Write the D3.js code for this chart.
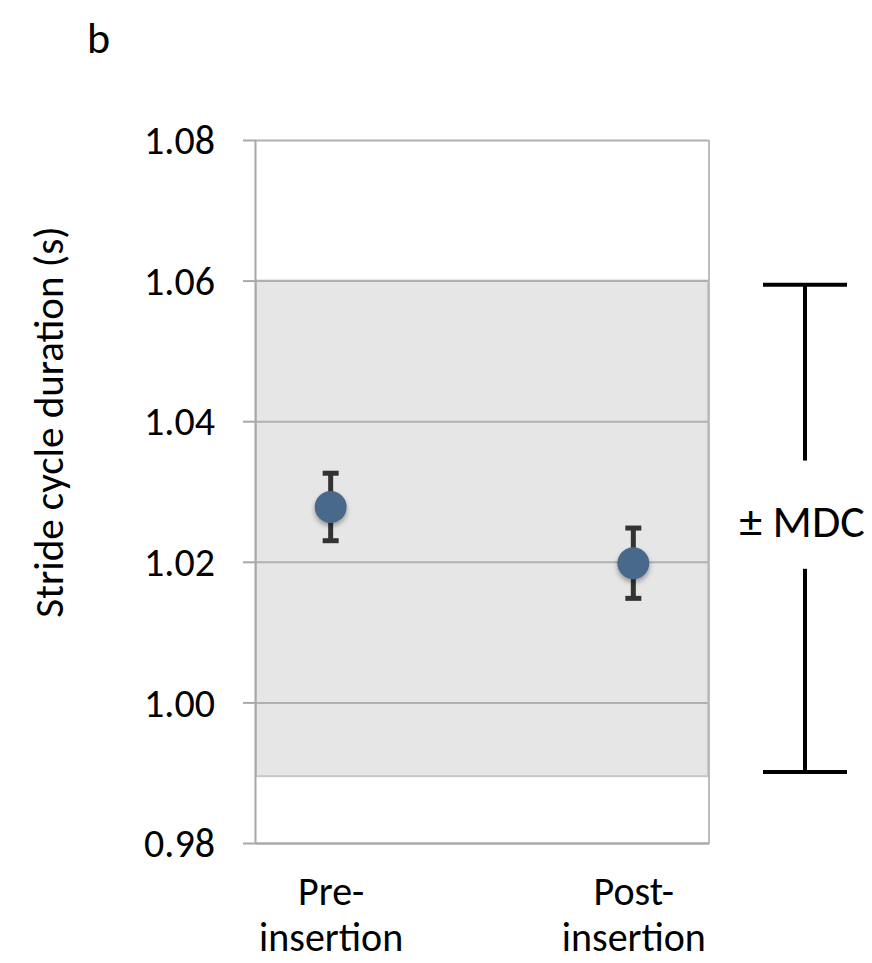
<!DOCTYPE html>
<html>
<head>
<meta charset="utf-8">
<script src="https://cdn.jsdelivr.net/npm/d3@7"></script>
<style>
  body { margin: 0; background: #fff; }
  text { font-family: Calibri, Carlito, Lato, "Open Sans", sans-serif; fill: #000; }
</style>
</head>
<body>
<div id="wrapper"></div>
<script>
// data
const categories = ["Pre-insertion", "Post-insertion"]
const categoryLines = [["Pre-", "insertion"], ["Post-", "insertion"]]
const means = [1.0278, 1.0198]
const errors = [0.0048, 0.0050]
const yTicks = [0.98, 1.00, 1.02, 1.04, 1.06, 1.08]
const mdcBand = [0.9895, 1.06]
const mdcBracket = [0.9901, 1.0594]
const mdcGap = [1.0190, 1.0344]

function drawChart() {
    const dataset = categories.map((c, i) => ({ category: c, lines: categoryLines[i], mean: means[i], err: errors[i] }))
    const xAccessor = d => d.category
    const yAccessor = d => d.mean

    let dimensions = {
        width: 872,
        height: 963,
        margin: { top: 140, right: 163, bottom: 120, left: 255 },
    }
    dimensions.boundedWidth = dimensions.width - dimensions.margin.left - dimensions.margin.right
    dimensions.boundedHeight = dimensions.height - dimensions.margin.top - dimensions.margin.bottom

    const wrapper = d3.select("#wrapper")
        .append("svg")
        .attr("width", dimensions.width)
        .attr("height", dimensions.height)

    const defs = wrapper.append("defs")
    defs.append("filter")
        .attr("id", "shadow")
        .attr("x", "-50%").attr("y", "-50%").attr("width", "200%").attr("height", "200%")
        .append("feDropShadow")
        .attr("dx", 0).attr("dy", 3).attr("stdDeviation", 2.5)
        .attr("flood-color", "#000").attr("flood-opacity", 0.35)

    const bounds = wrapper.append("g")
        .attr("transform", `translate(${dimensions.margin.left}, ${dimensions.margin.top})`)

    const yScale = d3.scaleLinear()
        .domain([d3.min(yTicks), d3.max(yTicks)])
        .range([dimensions.boundedHeight, 0])
    const xScale = d3.scalePoint()
        .domain(categories)
        .range([0, dimensions.boundedWidth])
        .padding(0.25)

    // MDC shaded band
    bounds.append("rect")
        .attr("x", 1)
        .attr("width", dimensions.boundedWidth - 2)
        .attr("y", yScale(mdcBand[1]))
        .attr("height", yScale(mdcBand[0]) - yScale(mdcBand[1]))
        .attr("fill", "#e6e6e6")
        .attr("stroke", "#c6c6c6")
        .attr("stroke-width", 2)

    // gridlines
    const grid = bounds.append("g")
        .call(d3.axisLeft(yScale).tickValues(yTicks).tickSize(-dimensions.boundedWidth).tickFormat(""))
    grid.select(".domain").remove()
    grid.selectAll("line").attr("stroke", "#b0b0b0").attr("stroke-width", 2)

    // right border
    bounds.append("line")
        .attr("x1", dimensions.boundedWidth).attr("x2", dimensions.boundedWidth)
        .attr("y1", 0).attr("y2", dimensions.boundedHeight)
        .attr("stroke", "#bcbcbc").attr("stroke-width", 2)

    // y axis
    const yAxis = bounds.append("g")
        .call(d3.axisLeft(yScale)
            .tickValues(yTicks)
            .tickSize(12)
            .tickSizeOuter(0)
            .tickPadding(28)
            .tickFormat(d3.format(".2f")))
    yAxis.select(".domain").attr("stroke", "#a8a8a8").attr("stroke-width", 2)
    yAxis.selectAll(".tick line").attr("stroke", "#a8a8a8").attr("stroke-width", 2)
    yAxis.selectAll(".tick text").style("font-size", "40px").attr("dy", "0.34em")

    // x axis
    const xAxis = bounds.append("g")
        .attr("transform", `translate(0, ${dimensions.boundedHeight})`)
        .call(d3.axisBottom(xScale).tickSize(0).tickSizeOuter(0).tickFormat(""))
    xAxis.select(".domain").attr("stroke", "#a8a8a8").attr("stroke-width", 2)
    xAxis.selectAll(".tick text").remove()
    xAxis.selectAll(".tick").data(dataset)
        .append("text")
        .attr("text-anchor", "middle")
        .style("font-size", "40px")
        .selectAll("tspan")
        .data(d => d.lines)
        .join("tspan")
        .attr("x", 0)
        .attr("y", (d, i) => 62 + i * 46)
        .text(d => d)

    // error bars
    const errGroup = bounds.append("g").attr("stroke", "#333").attr("stroke-width", 5)
    errGroup.selectAll(".stem").data(dataset).join("line")
        .attr("x1", d => xScale(xAccessor(d))).attr("x2", d => xScale(xAccessor(d)))
        .attr("y1", d => yScale(d.mean + d.err)).attr("y2", d => yScale(d.mean - d.err))
    errGroup.selectAll(".capTop").data(dataset).join("line")
        .attr("x1", d => xScale(xAccessor(d)) - 8).attr("x2", d => xScale(xAccessor(d)) + 8)
        .attr("y1", d => yScale(d.mean + d.err)).attr("y2", d => yScale(d.mean + d.err))
    errGroup.selectAll(".capBottom").data(dataset).join("line")
        .attr("x1", d => xScale(xAccessor(d)) - 8).attr("x2", d => xScale(xAccessor(d)) + 8)
        .attr("y1", d => yScale(d.mean - d.err)).attr("y2", d => yScale(d.mean - d.err))

    // points
    bounds.selectAll("circle").data(dataset).join("circle")
        .attr("cx", d => xScale(xAccessor(d)))
        .attr("cy", d => yScale(yAccessor(d)))
        .attr("r", 16)
        .attr("fill", "#49698b")
        .attr("filter", "url(#shadow)")

    // ± MDC bracket
    const bx = dimensions.boundedWidth + 96
    const mdc = bounds.append("g").attr("stroke", "#000").attr("stroke-width", 4)
    mdc.append("line").attr("x1", bx).attr("x2", bx).attr("y1", yScale(mdcBracket[1])).attr("y2", yScale(mdcGap[1]))
    mdc.append("line").attr("x1", bx).attr("x2", bx).attr("y1", yScale(mdcGap[0])).attr("y2", yScale(mdcBracket[0]))
    mdcBracket.forEach(v => {
        mdc.append("line").attr("x1", bx - 42).attr("x2", bx + 42).attr("y1", yScale(v)).attr("y2", yScale(v))
    })
    bounds.append("text")
        .attr("x", bx - 3)
        .attr("y", (yScale(mdcGap[0]) + yScale(mdcGap[1])) / 2 + 22)
        .attr("text-anchor", "middle")
        .style("font-size", "46px")
        .text("± MDC")

    // y axis title
    wrapper.append("text")
        .attr("transform", `translate(63, 422) rotate(-90)`)
        .attr("text-anchor", "middle")
        .style("font-size", "41px")
        .text("Stride cycle duration (s)")

    // panel letter
    wrapper.append("text")
        .attr("x", 87).attr("y", 53)
        .style("font-size", "44px")
        .text("b")
}

drawChart()
</script>
</body>
</html>
